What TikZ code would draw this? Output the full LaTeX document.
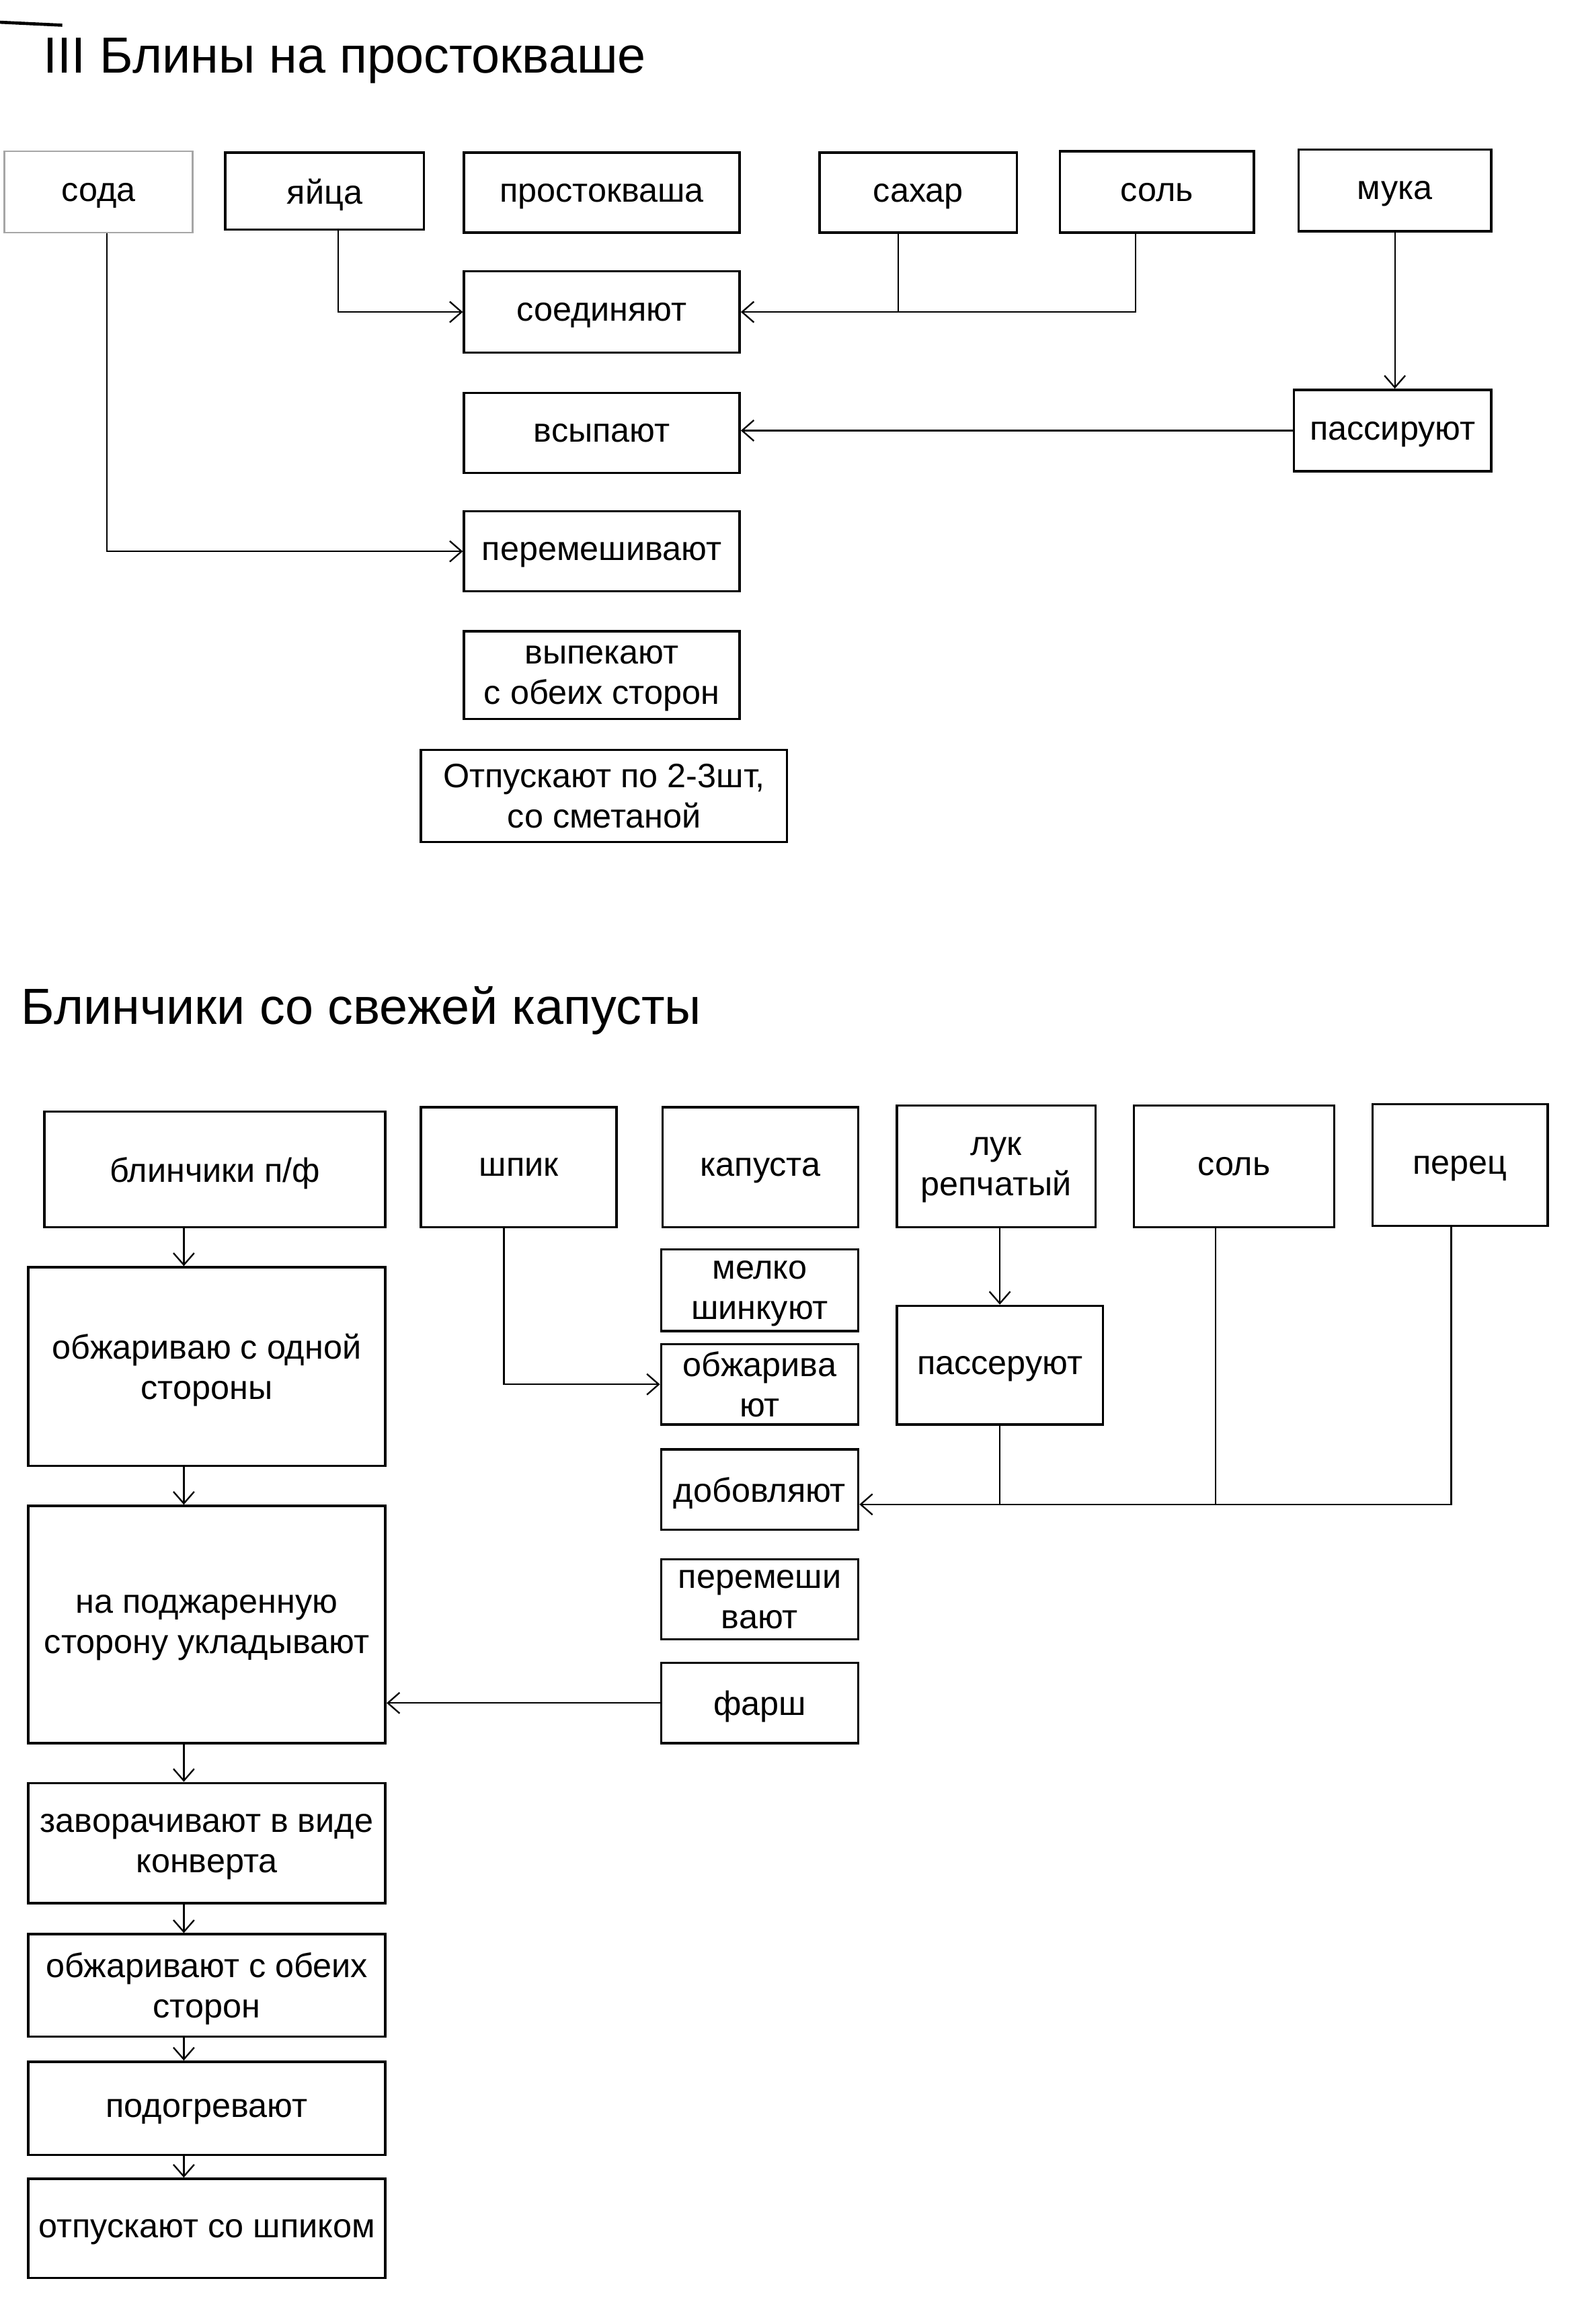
\documentclass[tikz,border=0pt]{standalone}
\usepackage{fontspec}
\setmainfont{Liberation Sans}
\usepackage{tikz}
\usetikzlibrary{arrows.meta, positioning}
\newcommand{\recipebox}{\fontsize{13pt}{15.5pt}\selectfont}
\newcommand{\recipehead}{\fontsize{19.5pt}{23pt}\selectfont}
\tikzstyle{arrow} = [line width=0.6pt, -{Straight Barb[length=1.6mm, width=2.8mm]}]
\tikzstyle{link} = [line width=0.6pt]
\tikzstyle{process} = [rectangle, draw=black, line width=0.9pt, text centered, align=center, font=\recipebox, inner sep=1pt, text depth=0pt]
\tikzstyle{heading} = [anchor=west, font=\recipehead, inner sep=0pt]
\tikzset{boxsize/.style 2 args={minimum width=#1*0.02cm, minimum height=#2*0.02cm}}

\begin{document}
\begin{tikzpicture}[x=0.02cm, y=-0.02cm]
        \useasboundingbox (0,0) rectangle (1067,1568);
        \draw [line width=1.2pt] (0,15) -- (42,17);

        % Блины на простокваше
        \node (title1) [heading] at (29,41) {III Блины на простокваше};
        \node (soda) [process, draw=gray!70, line width=0.6pt, boxsize={127}{55}] at (66.5,129.5) {сода};
        \node (eggs) [process, boxsize={134}{52}] at (219,129) {яйца};
        \node (milk) [process, boxsize={186}{54}] at (406,130) {простокваша};
        \node (sugar) [process, boxsize={133}{54}] at (619.5,130) {сахар};
        \node (salt) [process, boxsize={131}{55}] at (780.5,129.5) {соль};
        \node (flour) [process, boxsize={130}{55}] at (941,128.5) {мука};
        \node (join) [process, boxsize={186}{55}] at (406,210.5) {соединяют};
        \node (pour) [process, boxsize={186}{54}] at (406,292) {всыпают};
        \node (sift) [process, boxsize={133}{55}] at (939.5,290.5) {пассируют};
        \node (mix) [process, boxsize={186}{54}] at (406,372) {перемешивают};
        \node (bake) [process, boxsize={186}{59}] at (406,455.5) {выпекают\\с обеих сторон};
        \node (serve) [process, boxsize={247}{62}] at (407.5,537) {Отпускают по 2-3шт,\\со сметаной};

        \coordinate (sodaout) at ([xshift=0.11cm]soda.south);
        \coordinate (eggsout) at ([xshift=0.18cm]eggs.south);
        \coordinate (sugarout) at ([xshift=-0.27cm]sugar.south);
        \coordinate (saltout) at ([xshift=-0.29cm]salt.south);

        \draw [arrow] (eggsout) |- (join.west);
        \draw [arrow] (saltout) |- (join.east);
        \draw [link] (sugarout) -- (sugarout |- join.east);
        \draw [arrow] (flour.south) -- (sift.north -| flour.south);
        \draw [arrow] (sift.west) -- (sift.west -| pour.east);
        \draw [arrow] (sodaout) |- (mix.west);

        % Блинчики со свежей капусты
        \node (title2) [heading] at (14,682) {Блинчики со свежей капусты};
        \node (pf) [process, boxsize={230}{78}] at (145,789) {блинчики п/ф};
        \node (spik) [process, boxsize={132}{81}] at (350,787.5) {шпик};
        \node (cabbage) [process, boxsize={132}{81}] at (513,787.5) {капуста};
        \node (onion) [process, boxsize={134}{82}] at (672,787) {лук\\репчатый};
        \node (salt2) [process, boxsize={135}{82}] at (832.5,787) {соль};
        \node (pepper) [process, boxsize={118}{82}] at (985,786) {перец};

        \node (fry1) [process, boxsize={241}{134}] at (139.5,922) {обжариваю с одной\\стороны};
        \node (place) [process, boxsize={241}{160}] at (139.5,1096) {на поджаренную\\сторону укладывают};
        \node (wrap) [process, boxsize={241}{81}] at (139.5,1243.5) {заворачивают в виде\\конверта};
        \node (fry2) [process, boxsize={241}{69}] at (139.5,1339.5) {обжаривают с обеих\\сторон};
        \node (heat) [process, boxsize={241}{63}] at (139.5,1422.5) {подогревают};
        \node (serve2) [process, boxsize={241}{67}] at (139.5,1503.5) {отпускают со шпиком};

        \node (shred) [process, boxsize={133}{55}] at (512.5,870.5) {мелко\\шинкуют};
        \node (fryc) [process, boxsize={133}{54}] at (512.5,934) {обжарива\\ют};
        \node (addin) [process, boxsize={133}{54}] at (512.5,1005) {добовляют};
        \node (stir) [process, boxsize={133}{54}] at (512.5,1079) {перемеши\\вают};
        \node (filling) [process, boxsize={133}{54}] at (512.5,1149) {фарш};
        \node (saute) [process, boxsize={139}{80}] at (674.5,921) {пассеруют};

        \coordinate (axis) at (124,0);
        \coordinate (spikout) at ([xshift=-0.2cm]spik.south);
        \coordinate (salt2out) at ([xshift=-0.25cm]salt2.south);
        \coordinate (pepperout) at ([xshift=-0.12cm]pepper.south);
        \coordinate (addpt) at ([yshift=-0.2cm]addin.east);

        \draw [arrow] (pf.south -| axis) -- (fry1.north -| axis);
        \draw [arrow] (fry1.south -| axis) -- (place.north -| axis);
        \draw [arrow] (place.south -| axis) -- (wrap.north -| axis);
        \draw [arrow] (wrap.south -| axis) -- (fry2.north -| axis);
        \draw [arrow] (fry2.south -| axis) -- (heat.north -| axis);
        \draw [arrow] (heat.south -| axis) -- (serve2.north -| axis);

        \draw [arrow] (spikout) |- (fryc.west);
        \draw [arrow] (onion.south -| saute.north) -- (saute.north);
        \draw [arrow] (pepperout) |- (addpt);
        \draw [link] (saute.south) -- (saute.south |- addpt);
        \draw [link] (salt2out) -- (salt2out |- addpt);
        \draw [arrow] (filling.west) -- (place.east |- filling.west);
    \end{tikzpicture}
\end{document}
